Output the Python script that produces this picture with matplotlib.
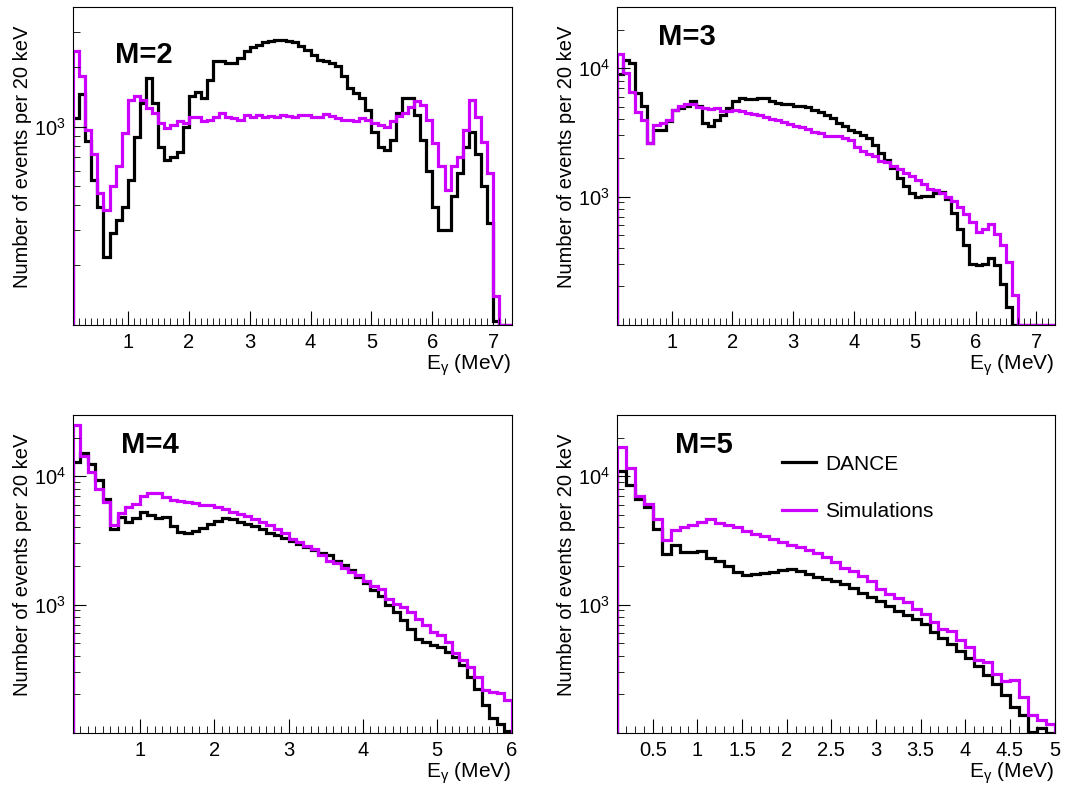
import numpy as np
import matplotlib
matplotlib.use('Agg')
import matplotlib.pyplot as plt
from matplotlib.ticker import MultipleLocator, LogLocator, NullFormatter, FormatStrFormatter

plt.rcParams['font.family'] = ['Liberation Sans', 'DejaVu Sans']
plt.rcParams['mathtext.fontset'] = 'custom'
plt.rcParams['mathtext.rm'] = 'Liberation Sans'
plt.rcParams['mathtext.it'] = 'Liberation Sans:italic'
plt.rcParams['mathtext.default'] = 'regular'

# gamma-ray energy spectra per multiplicity, counts per bin
# bins are 0.1 MeV wide starting at 0.1 MeV
E_START = 0.1
BIN_W = 0.1

m2_dance = [1100, 1450, 850, 540, 395, 220, 290, 340, 395, 540,
            890, 1310, 1760, 1310, 790, 680, 705, 740, 1000, 1420,
            1500, 1390, 1720, 2130, 2130, 2090, 2090, 2210, 2390, 2520,
            2580, 2660, 2690, 2715, 2740, 2690, 2660, 2530, 2440, 2300,
            2170, 2130, 2090, 2010, 1790, 1560, 1470, 1390, 1210, 940,
            790, 760, 860, 1170, 1390, 1390, 1145, 860, 600, 395,
            300, 300, 445, 580, 790, 940, 730, 500, 325, 105,
            100, 100]
m2_sim = [2400, 1790, 960, 730, 460, 380, 500, 630, 925, 1360,
          1420, 1360, 1240, 1170, 1040, 980, 1020, 1060, 1040, 1120,
          1120, 1060, 1080, 1120, 1170, 1120, 1100, 1080, 1145, 1120,
          1145, 1120, 1130, 1115, 1145, 1130, 1120, 1145, 1145, 1115,
          1120, 1160, 1130, 1100, 1080, 1080, 1060, 1100, 1080, 1040,
          1020, 1000, 1060, 1130, 1175, 1260, 1340, 1290, 1080, 825,
          630, 480, 630, 705, 960, 1360, 1120, 840, 580, 140,
          100, 100]

m3_dance = [9000, 11500, 11000, 6440, 5060, 2610, 3320, 3320, 3860, 4770,
            4900, 5120, 5540, 5060, 3750, 3530, 3980, 4350, 4900, 5540,
            5880, 5800, 5800, 5880, 5880, 5540, 5380, 5280, 5220, 5120,
            5060, 4970, 4770, 4540, 4350, 4080, 3750, 3530, 3320, 3170,
            3040, 2860, 2540, 2180, 1940, 1670, 1390, 1200, 1060, 1000,
            1010, 1010, 1075, 1080, 960, 740, 555, 420, 300, 292,
            300, 330, 292, 210, 138, 100, 100, 100, 100, 100,
            100, 100]
m3_sim = [13000, 9230, 6500, 4540, 3980, 2610, 3640, 3750, 3980, 4770,
          5120, 5220, 5220, 5000, 4880, 4820, 4900, 4680, 4620, 4710,
          4620, 4490, 4410, 4300, 4180, 4050, 3950, 3790, 3680, 3570,
          3470, 3360, 3200, 3130, 2985, 2985, 2950, 2860, 2780, 2430,
          2280, 2160, 2090, 1910, 1860, 1745, 1645, 1520, 1460, 1350,
          1250, 1150, 1130, 1075, 1000, 925, 825, 730, 640, 530,
          555, 610, 516, 418, 310, 170, 100, 100, 100, 100,
          100, 100]

m4_dance = [13000, 15200, 12500, 9300, 6670, 3900, 4800, 4390, 4720, 5250,
            4950, 4770, 4800, 4130, 3670, 3610, 3720, 3940, 4260, 4520,
            4690, 4660, 4440, 4260, 4090, 3850, 3630, 3500, 3320, 3140,
            2960, 2790, 2680, 2540, 2420, 2180, 2050, 1850, 1640, 1470,
            1290, 1160, 1000, 877, 756, 650, 544, 513, 483, 470,
            429, 392, 338, 274, 222, 165, 130, 117, 103]
m4_sim = [25000, 14480, 10740, 8000, 6280, 4140, 5190, 5740, 6090, 7070,
          7370, 7420, 6870, 6510, 6430, 6350, 6200, 6020, 5920, 5810,
          5570, 5310, 5100, 4890, 4660, 4440, 4140, 3900, 3630, 3260,
          3070, 2860, 2690, 2450, 2190, 2110, 1930, 1790, 1690, 1525,
          1390, 1315, 1113, 1005, 950, 877, 778, 691, 613, 578,
          513, 418, 370, 328, 274, 217, 210, 204, 181]

m5_dance = [11000, 8580, 6670, 5810, 3900, 2490, 2890, 2570, 2570, 2625,
            2300, 2195, 2000, 1795, 1710, 1740, 1770, 1810, 1855, 1890,
            1840, 1740, 1650, 1575, 1530, 1456, 1355, 1240, 1147, 1062,
            976, 898, 836, 769, 703, 613, 551, 491, 436, 386,
            334, 282, 240, 197, 160, 138, 102, 110, 100]
m5_sim = [17000, 11500, 7070, 6130, 4660, 3160, 3785, 3990, 4136, 4440,
          4610, 4340, 4136, 3990, 3720, 3565, 3400, 3220, 3070, 2925,
          2805, 2680, 2520, 2350, 2145, 1925, 1827, 1670, 1518, 1331,
          1218, 1127, 1049, 920, 851, 733, 643, 625, 528, 469,
          370, 355, 290, 252, 257, 192, 138, 126, 118]

labels = ['M=2', 'M=3', 'M=4', 'M=5']
dance = [m2_dance, m3_dance, m4_dance, m5_dance]
sims = [m2_sim, m3_sim, m4_sim, m5_sim]
x_max = [7.3, 7.3, 6.0, 5.0]
y_lims = [(100, 4000), (100, 30000), (100, 30000), (100, 30000)]
y_major = [[1e3], [1e3, 1e4], [1e3, 1e4], [1e3, 1e4]]
x_major = [1, 1, 1, 0.5]

# axes boxes in pixels: left, top, right, bottom
W, H = 1065, 786
boxes = [(73, 7, 511.5, 325), (617, 7, 1054.5, 325),
         (73, 415, 511.5, 733), (617, 415, 1054.5, 733)]
tag_pos = [(0.096, 0.85), (0.094, 0.905), (0.11, 0.905), (0.133, 0.905)]

black = 'black'
magenta = '#cc00ff'

fig = plt.figure(figsize=(W / 100, H / 100), dpi=100)

for i in range(4):
    l, t, r, b = boxes[i]
    ax = fig.add_axes([l / W, 1 - b / H, (r - l) / W, (b - t) / H])
    n = len(dance[i])
    edges = np.round(E_START + BIN_W * np.arange(n + 1), 3)
    ymin = y_lims[i][0]
    ax.stairs(dance[i], edges, baseline=ymin, color=black, lw=2.3, label='DANCE')
    ax.stairs(sims[i], edges, baseline=ymin, color=magenta, lw=2.3, label='Simulations')

    ax.set_yscale('log')
    ax.set_xlim(E_START, x_max[i])
    ax.set_ylim(*y_lims[i])
    ax.set_yticks(y_major[i])
    ax.yaxis.set_minor_locator(LogLocator(base=10, subs=np.arange(2, 10)))
    ax.yaxis.set_minor_formatter(NullFormatter())
    ax.xaxis.set_major_locator(MultipleLocator(x_major[i]))
    ax.xaxis.set_minor_locator(MultipleLocator(0.1))
    ax.xaxis.set_major_formatter(FormatStrFormatter('%g'))

    ax.tick_params(which='both', direction='in', top=False, right=False, labelsize=14.5)
    ax.tick_params(axis='x', which='major', length=10, pad=6)
    ax.tick_params(axis='x', which='minor', length=5)
    ax.tick_params(axis='y', which='major', length=9, pad=5)
    ax.tick_params(axis='y', which='minor', length=5)

    ax.set_xlabel(r'E$_{\gamma}$ (MeV)', loc='right', fontsize=15, labelpad=0)
    ax.set_ylabel('Number of events per 20 keV', loc='top', fontsize=14.5)
    ax.yaxis.set_label_coords(-0.094, 0.94)
    ax.text(tag_pos[i][0], tag_pos[i][1], labels[i], transform=ax.transAxes,
            fontsize=21, fontweight='bold', va='center', ha='left')

    if i == 3:
        ax.legend(loc='upper left', bbox_to_anchor=(0.378, 0.875), frameon=False,
                  fontsize=15, handlelength=1.6, handletextpad=0.45,
                  labelspacing=1.35, borderpad=0, borderaxespad=0)

fig.savefig('out.png', dpi=100)
